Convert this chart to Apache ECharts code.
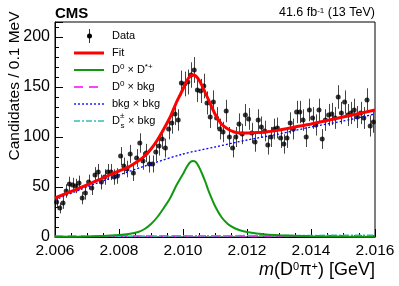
<!DOCTYPE html>
<html><head><meta charset="utf-8">
<script src="https://cdn.jsdelivr.net/npm/echarts@6/dist/echarts.min.js"></script>
<style>html,body{margin:0;padding:0;background:#fff}#c{width:399px;height:286px}</style>
</head><body><div id="c"></div>
<script>
// ---- data ----
const binCenters = [
 2.00605,2.00615,2.00625,2.00635,2.00645,2.00655,2.00665,2.00675,2.00685,2.00695,
 2.00705,2.00715,2.00725,2.00735,2.00745,2.00755,2.00765,2.00775,2.00785,2.00795,
 2.00805,2.00815,2.00825,2.00835,2.00845,2.00855,2.00865,2.00875,2.00885,2.00895,
 2.00905,2.00915,2.00925,2.00935,2.00945,2.00955,2.00965,2.00975,2.00985,2.00995,
 2.01005,2.01015,2.01025,2.01035,2.01045,2.01055,2.01065,2.01075,2.01085,2.01095,
 2.01105,2.01115,2.01125,2.01135,2.01145,2.01155,2.01165,2.01175,2.01185,2.01195,
 2.01205,2.01215,2.01225,2.01235,2.01245,2.01255,2.01265,2.01275,2.01285,2.01295,
 2.01305,2.01315,2.01325,2.01335,2.01345,2.01355,2.01365,2.01375,2.01385,2.01395,
 2.01405,2.01415,2.01425,2.01435,2.01445,2.01455,2.01465,2.01475,2.01485,2.01495,
 2.01505,2.01515,2.01525,2.01535,2.01545,2.01555,2.01565,2.01575,2.01585,2.01595];
const counts = [
 35,29,34,46,53,52,51,54,39,44,
 55,49,62,65,55,60,65,65,60,61,
 81,71,68,83,64,79,94,76,84,73,
 73,85,91,98,89,108,114,123,117,154,
 153,155,162,167,147,146,151,134,120,135,
 119,108,105,126,100,89,100,113,103,122,
 118,104,95,117,110,106,92,100,108,109,
 99,93,99,114,108,125,125,117,100,127,
 119,112,127,98,117,122,123,119,140,124,
 135,122,124,127,120,124,119,137,111,115];
const curveX = [2.0060,2.0070,2.0075,2.0080,2.0083,2.0086,2.0088,2.0090,2.0092,2.0094,
 2.0096,2.0098,2.0100,2.0101,2.0102,2.0103,2.0104,2.0105,2.0106,2.0107,2.0108,2.0110,
 2.0112,2.0114,2.0116,2.0118,2.0120,2.0123,2.0126,2.0130,2.0135,2.0140,2.0150,2.0160];
const fitY = [39,52,59,66,70,76,81,88,97,108,
 120,135,148,155,160,162,161,157,151,144,137,123,
 113,108,105,104,104,104.5,105,107,110,113,120,127];
const sigY = [0.2,0.5,1,2,3,5,8,13,20,29,
 39,52,63,69,74,76,75,70,63,55,46,31,
 20,13,9,6.5,5,3.5,2.5,1.8,1.2,0.8,0.4,0.2];
const bkgX = [2.006,2.007,2.008,2.009,2.010,2.011,2.012,2.013,2.014,2.015,2.016];
const bkgY = [37,50,62,73,83,90,97,103,110,116,123];
const d0bkgX = [2.006,2.011,2.016];
const d0bkgY = [0.8,1.0,1.2];
const dsbkgX = [2.006,2.011,2.016];
const dsbkgY = [0.5,1.3,1.8];
const xTickLabels = ['2.006','2.008','2.010','2.012','2.014','2.016'];
const yTickLabels = ['0','50','100','150','200'];

// ---- chart ----
const FONT = 'Liberation Sans, Arial, Helvetica, sans-serif';
const zip = (xs, ys) => xs.map((x, i) => [x, ys[i]]);
const dataPts = binCenters.map((x, i) => [x, counts[i], counts[i] - Math.sqrt(counts[i]), counts[i] + Math.sqrt(counts[i])]);

const chart = echarts.init(document.getElementById('c'), null, {renderer: 'canvas'});
const supS = {fontSize: 8, verticalAlign: 'top', fontFamily: FONT, lineHeight: 14};
chart.setOption({
  animation: false,
  backgroundColor: '#fff',
  grid: {left: 55, right: 24, top: 22, bottom: 49, show: true, borderColor: '#000', borderWidth: 1, backgroundColor: 'transparent'},
  xAxis: {
    type: 'value', min: 2.006, max: 2.016, interval: 0.002,
    axisLine: {lineStyle: {color: '#000', width: 1}},
    axisTick: {inside: true, length: 8, lineStyle: {color: '#000'}},
    minorTick: {show: true, splitNumber: 4, length: 4, lineStyle: {color: '#000'}},
    splitLine: {show: false},
    axisLabel: {color: '#000', fontSize: 15.5, fontFamily: FONT, margin: 6,
      formatter: v => { const s = v.toFixed(3); return xTickLabels.indexOf(s) >= 0 ? s : ''; }}
  },
  yAxis: {
    type: 'value', min: 0, max: 215, interval: 50,
    axisLine: {show: true, lineStyle: {color: '#000', width: 1}},
    axisTick: {show: true, inside: true, length: 8, lineStyle: {color: '#000'}},
    minorTick: {show: true, splitNumber: 5, length: 4, lineStyle: {color: '#000'}},
    splitLine: {show: false},
    axisLabel: {color: '#000', fontSize: 16, fontFamily: FONT, margin: 5, showMaxLabel: false,
      formatter: v => { const s = String(Math.round(v)); return yTickLabels.indexOf(s) >= 0 && Math.abs(v - Math.round(v)) < 1e-9 ? s : ''; }}
  },
  series: [
    {type: 'custom', data: dataPts, z: 2, clip: true,
     encode: {x: 0, y: 1},
     renderItem: (params, api) => {
       const a = api.coord([api.value(0), api.value(2)]);
       const b = api.coord([api.value(0), api.value(3)]);
       const x = Math.round(a[0]) + 0.5;
       return {type: 'line', shape: {x1: x, y1: a[1], x2: x, y2: b[1]}, style: {stroke: '#444', lineWidth: 1}};
     }},
    {type: 'scatter', data: zip(binCenters, counts), symbol: 'circle', symbolSize: 5, itemStyle: {color: '#000'}, z: 3},
    {type: 'line', data: zip(d0bkgX, d0bkgY), showSymbol: false, symbol: 'none', lineStyle: {color: '#ff00ff', width: 1.5, type: [8, 5]}, z: 4},
    {type: 'line', data: zip(dsbkgX, dsbkgY), showSymbol: false, symbol: 'none', lineStyle: {color: '#33bbbb', width: 1.5, type: [6, 2, 2, 2]}, z: 4},
    {type: 'line', data: zip(bkgX, bkgY), showSymbol: false, symbol: 'none', smooth: 0.3, lineStyle: {color: '#0000ff', width: 1.3, type: [2, 2]}, z: 4},
    {type: 'line', data: zip(curveX, sigY), showSymbol: false, symbol: 'none', smooth: 0.3, lineStyle: {color: '#119911', width: 2}, z: 4},
    {type: 'line', data: zip(curveX, fitY), showSymbol: false, symbol: 'none', smooth: 0.3, lineStyle: {color: '#ff0000', width: 3}, z: 5}
  ],
  graphic: [
    {type: 'text', left: 55, top: 6, style: {text: 'CMS', font: 'bold 15px ' + FONT, fill: '#000'}},
    {type: 'text', x: 375, y: 13, style: {text: '41.6 fb{s|-1} (13 TeV)', fontSize: 12.5, fontFamily: FONT, fill: '#000', align: 'right', verticalAlign: 'middle',
      rich: {s: {fontSize: 8, verticalAlign: 'top', fontFamily: FONT}}}},
    {type: 'text', x: 15, y: 86, rotation: Math.PI / 2, style: {text: 'Candidates / 0.1 MeV', fontSize: 15.5, fontFamily: FONT, fill: '#000', align: 'center', verticalAlign: 'middle'}},
    {type: 'text', x: 375, y: 270, style: {text: '{i|m}(D{s|0}π{s|+}) [GeV]', fontSize: 18, fontFamily: FONT, fill: '#000', align: 'right', verticalAlign: 'middle',
      rich: {i: {fontStyle: 'italic', fontSize: 18, fontFamily: FONT}, s: {fontSize: 11, verticalAlign: 'top', fontFamily: FONT}}}},
    // legend
    {type: 'line', shape: {x1: 89.5, y1: 29, x2: 89.5, y2: 43}, style: {stroke: '#333', lineWidth: 1}},
    {type: 'circle', shape: {cx: 89.5, cy: 36, r: 2.5}, style: {fill: '#000'}},
    {type: 'text', x: 112, y: 36, style: {text: 'Data', fontSize: 11, fontFamily: FONT, fill: '#000', verticalAlign: 'middle'}},
    {type: 'line', shape: {x1: 74, y1: 53, x2: 104, y2: 53}, style: {stroke: '#ff0000', lineWidth: 3}},
    {type: 'text', x: 112, y: 53, style: {text: 'Fit', fontSize: 11, fontFamily: FONT, fill: '#000', verticalAlign: 'middle'}},
    {type: 'line', shape: {x1: 74, y1: 70, x2: 104, y2: 70}, style: {stroke: '#119911', lineWidth: 2}},
    {type: 'text', x: 112, y: 70, style: {text: 'D{s|0} × D{s|*+}', fontSize: 11, fontFamily: FONT, fill: '#000', verticalAlign: 'middle', rich: {s: supS}}},
    {type: 'line', shape: {x1: 74, y1: 87, x2: 104, y2: 87}, style: {stroke: '#ff00ff', lineWidth: 1.5, lineDash: [9, 6]}},
    {type: 'text', x: 112, y: 87, style: {text: 'D{s|0} × bkg', fontSize: 11, fontFamily: FONT, fill: '#000', verticalAlign: 'middle', rich: {s: supS}}},
    {type: 'line', shape: {x1: 74, y1: 104, x2: 104, y2: 104}, style: {stroke: '#0000ff', lineWidth: 1.3, lineDash: [2, 2]}},
    {type: 'text', x: 112, y: 104, style: {text: 'bkg × bkg', fontSize: 11, fontFamily: FONT, fill: '#000', verticalAlign: 'middle'}},
    {type: 'line', shape: {x1: 74, y1: 121, x2: 104, y2: 121}, style: {stroke: '#33bbbb', lineWidth: 1.5, lineDash: [6, 2, 2, 2]}},
    {type: 'text', x: 112, y: 121, style: {text: 'D', fontSize: 11, fontFamily: FONT, fill: '#000', verticalAlign: 'middle'}},
    {type: 'text', x: 120, y: 116, style: {text: '±', fontSize: 8, fontFamily: FONT, fill: '#000', verticalAlign: 'middle'}},
    {type: 'text', x: 120.5, y: 125.5, style: {text: 's', fontSize: 8, fontFamily: FONT, fill: '#000', verticalAlign: 'middle'}},
    {type: 'text', x: 125, y: 121, style: {text: ' × bkg', fontSize: 11, fontFamily: FONT, fill: '#000', verticalAlign: 'middle'}}
  ]
});
</script>
</body></html>
